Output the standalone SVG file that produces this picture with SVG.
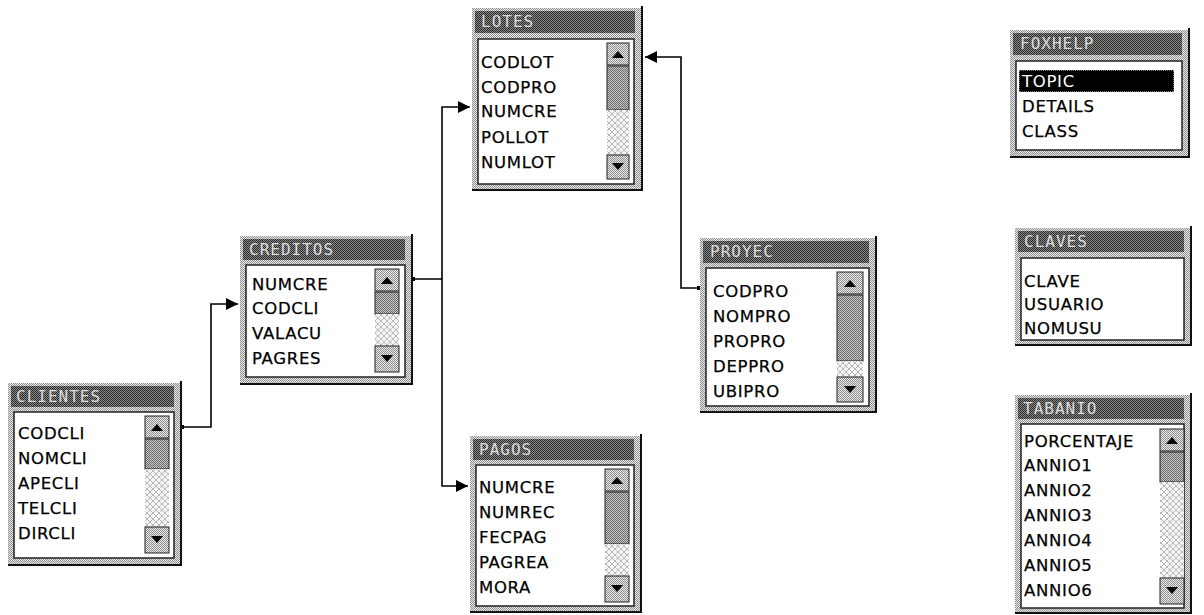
<svg xmlns="http://www.w3.org/2000/svg" width="1204" height="615" viewBox="0 0 1204 615">
<style>
.bg{fill:#fff}
.frame{fill:url(#dith)}
.edge{fill:none;stroke:#111;stroke-width:2}
.title{fill:url(#dark)}
.list{fill:#fff;stroke:#222;stroke-width:1.5}
.tt{font-family:"DejaVu Sans Mono",monospace;font-size:16px;fill:#dcdcdc;letter-spacing:1px}
.row{font-family:"DejaVu Sans",Verdana,sans-serif;font-size:16.5px;fill:#000;stroke:#000;stroke-width:0.25;letter-spacing:0.7px}
.rowi{font-family:"DejaVu Sans",Verdana,sans-serif;font-size:16.5px;fill:#fff;letter-spacing:0.7px}
.btn{fill:url(#dith);stroke:#222;stroke-width:1}
.thumb{fill:url(#mid);stroke:#222;stroke-width:1}
.track{fill:url(#hatch)}
.tri{fill:#000}
.conn{fill:none;stroke:#000;stroke-width:1.6}
.dot{fill:#000}
</style>
<defs>
<pattern id="dith" width="2" height="2" patternUnits="userSpaceOnUse"><rect width="2" height="2" fill="#ececec"/><rect width="1" height="1" fill="#8c8c8c"/><rect x="1" y="1" width="1" height="1" fill="#8c8c8c"/></pattern>
<pattern id="dark" width="2" height="2" patternUnits="userSpaceOnUse"><rect width="2" height="2" fill="#8a8a8a"/><rect width="1" height="1" fill="#2a2a2a"/><rect x="1" y="1" width="1" height="1" fill="#2a2a2a"/></pattern>
<pattern id="mid" width="2" height="2" patternUnits="userSpaceOnUse"><rect width="2" height="2" fill="#c8c8c8"/><rect width="1" height="1" fill="#6a6a6a"/><rect x="1" y="1" width="1" height="1" fill="#6a6a6a"/></pattern>
<pattern id="hatch" width="6" height="6" patternUnits="userSpaceOnUse"><rect width="6" height="6" fill="#f4f4f4"/><path d="M0,0 L6,6 M6,0 L0,6" stroke="#a8a8a8" stroke-width="0.8"/></pattern>
<marker id="arr" viewBox="0 0 10 10" refX="10" refY="5" markerWidth="12" markerHeight="12" markerUnits="userSpaceOnUse" orient="auto"><path d="M0,0 L10,5 L0,10 Z" fill="#000"/></marker>
</defs>
<rect class="bg" x="0" y="0" width="1204" height="615"/>

<g id="connectors">
<path class="conn" d="M183,427 H211 V304 H238" marker-end="url(#arr)"/>
<rect class="dot" x="180" y="425" width="4" height="4"/>
<path class="conn" d="M414,279 H442 V107 H470" marker-end="url(#arr)"/>
<rect class="dot" x="411" y="277" width="4" height="4"/>
<path class="conn" d="M442,279 V486 H468" marker-end="url(#arr)"/>
<path class="conn" d="M700,288 H681 V57 H645" marker-end="url(#arr)"/>
<rect class="dot" x="697" y="286" width="4" height="4"/>
</g>

<g id="lotes">
<rect class="frame" x="472" y="8" width="171" height="182"/>
<path class="edge" d="M642,6 V190 H472"/>
<rect class="title" x="475" y="11" width="160" height="22"/>
<text class="tt" x="481" y="27">LOTES</text>
<rect class="list" x="478" y="39" width="156" height="145"/>
<text class="row" x="481" y="68">CODLOT</text>
<text class="row" x="481" y="93">CODPRO</text>
<text class="row" x="481" y="117">NUMCRE</text>
<text class="row" x="481" y="143">POLLOT</text>
<text class="row" x="481" y="168">NUMLOT</text>
<rect class="btn" x="607" y="43" width="22" height="22"/><path class="tri" d="M612,58 L618,51 L624,58 Z"/>
<rect class="thumb" x="607" y="66" width="22" height="44"/>
<rect class="track" x="607" y="110" width="22" height="45"/>
<rect class="btn" x="607" y="155" width="22" height="24"/><path class="tri" d="M612,163 L618,170 L624,163 Z"/>
</g>

<g id="creditos">
<rect class="frame" x="240" y="236" width="173" height="148"/>
<path class="edge" d="M412,234 V384 H240"/>
<rect class="title" x="243" y="239" width="162" height="21"/>
<text class="tt" x="249" y="255">CREDITOS</text>
<rect class="list" x="246" y="265" width="159" height="112"/>
<text class="row" x="252" y="290">NUMCRE</text>
<text class="row" x="252" y="314">CODCLI</text>
<text class="row" x="252" y="339">VALACU</text>
<text class="row" x="252" y="364">PAGRES</text>
<rect class="btn" x="375" y="269" width="24" height="22"/><path class="tri" d="M381,284 L387,277 L393,284 Z"/>
<rect class="thumb" x="375" y="292" width="24" height="22"/>
<rect class="track" x="375" y="314" width="24" height="32"/>
<rect class="btn" x="375" y="346" width="24" height="26"/><path class="tri" d="M381,355 L387,362 L393,355 Z"/>
</g>

<g id="clientes">
<rect class="frame" x="8" y="383" width="174" height="182"/>
<path class="edge" d="M181,381 V565 H8"/>
<rect class="title" x="11" y="386" width="163" height="21"/>
<text class="tt" x="16" y="402">CLIENTES</text>
<rect class="list" x="14" y="412" width="160" height="146"/>
<text class="row" x="18" y="439">CODCLI</text>
<text class="row" x="18" y="464">NOMCLI</text>
<text class="row" x="18" y="489">APECLI</text>
<text class="row" x="18" y="514">TELCLI</text>
<text class="row" x="18" y="539">DIRCLI</text>
<rect class="btn" x="145" y="416" width="24" height="22"/><path class="tri" d="M151,431 L157,424 L163,431 Z"/>
<rect class="thumb" x="145" y="439" width="24" height="30"/>
<rect class="track" x="145" y="469" width="24" height="58"/>
<rect class="btn" x="145" y="527" width="24" height="26"/><path class="tri" d="M151,536 L157,543 L163,536 Z"/>
</g>

<g id="pagos">
<rect class="frame" x="470" y="436" width="172" height="176"/>
<path class="edge" d="M641,434 V612 H470"/>
<rect class="title" x="473" y="439" width="161" height="21"/>
<text class="tt" x="479" y="455">PAGOS</text>
<rect class="list" x="476" y="465" width="158" height="141"/>
<text class="row" x="479" y="493">NUMCRE</text>
<text class="row" x="479" y="518">NUMREC</text>
<text class="row" x="479" y="543">FECPAG</text>
<text class="row" x="479" y="568">PAGREA</text>
<text class="row" x="479" y="593">MORA</text>
<rect class="btn" x="605" y="469" width="24" height="22"/><path class="tri" d="M611,484 L617,477 L623,484 Z"/>
<rect class="thumb" x="605" y="492" width="24" height="52"/>
<rect class="track" x="605" y="544" width="24" height="32"/>
<rect class="btn" x="605" y="576" width="24" height="26"/><path class="tri" d="M611,585 L617,592 L623,585 Z"/>
</g>

<g id="proyec">
<rect class="frame" x="700" y="238" width="177" height="174"/>
<path class="edge" d="M876,236 V412 H700"/>
<rect class="title" x="703" y="241" width="166" height="22"/>
<text class="tt" x="710" y="257">PROYEC</text>
<rect class="list" x="706" y="268" width="163" height="138"/>
<text class="row" x="713" y="297">CODPRO</text>
<text class="row" x="713" y="322">NOMPRO</text>
<text class="row" x="713" y="347">PROPRO</text>
<text class="row" x="713" y="372">DEPPRO</text>
<text class="row" x="713" y="397">UBIPRO</text>
<rect class="btn" x="837" y="272" width="26" height="22"/><path class="tri" d="M844,287 L850,280 L856,287 Z"/>
<rect class="thumb" x="837" y="295" width="26" height="66"/>
<rect class="track" x="837" y="361" width="26" height="16"/>
<rect class="btn" x="837" y="377" width="26" height="25"/><path class="tri" d="M844,386 L850,393 L856,386 Z"/>
</g>

<g id="foxhelp">
<rect class="frame" x="1010" y="30" width="180" height="127"/>
<path class="edge" d="M1189,28 V157 H1010"/>
<rect class="title" x="1013" y="33" width="169" height="22"/>
<text class="tt" x="1020" y="49">FOXHELP</text>
<rect class="list" x="1016" y="61" width="166" height="89"/>
<rect x="1019" y="70" width="155" height="22" fill="#000"/>
<rect x="1019" y="70" width="155" height="22" fill="none" stroke="#fff" stroke-width="1" stroke-dasharray="1 1"/>
<text class="rowi" x="1022" y="87">TOPIC</text>
<text class="row" x="1022" y="112">DETAILS</text>
<text class="row" x="1022" y="137">CLASS</text>
</g>

<g id="claves">
<rect class="frame" x="1015" y="228" width="177" height="117"/>
<path class="edge" d="M1191,226 V345 H1015"/>
<rect class="title" x="1018" y="231" width="166" height="21"/>
<text class="tt" x="1024" y="247">CLAVES</text>
<rect class="list" x="1021" y="258" width="163" height="82"/>
<text class="row" x="1024" y="287">CLAVE</text>
<text class="row" x="1024" y="310">USUARIO</text>
<text class="row" x="1024" y="334">NOMUSU</text>
</g>

<g id="tabanio">
<rect class="frame" x="1015" y="395" width="177" height="218"/>
<path class="edge" d="M1191,393 V613 H1015"/>
<rect class="title" x="1018" y="398" width="166" height="21"/>
<text class="tt" x="1023" y="414">TABANIO</text>
<rect class="list" x="1021" y="424" width="163" height="184"/>
<text class="row" x="1024" y="447">PORCENTAJE</text>
<text class="row" x="1024" y="471">ANNIO1</text>
<text class="row" x="1024" y="496">ANNIO2</text>
<text class="row" x="1024" y="521">ANNIO3</text>
<text class="row" x="1024" y="546">ANNIO4</text>
<text class="row" x="1024" y="571">ANNIO5</text>
<text class="row" x="1024" y="596">ANNIO6</text>
<rect class="btn" x="1160" y="429" width="24" height="22"/><path class="tri" d="M1166,444 L1172,437 L1178,444 Z"/>
<rect class="thumb" x="1160" y="452" width="24" height="30"/>
<rect class="track" x="1160" y="482" width="24" height="96"/>
<rect class="btn" x="1160" y="578" width="24" height="26"/><path class="tri" d="M1166,587 L1172,594 L1178,587 Z"/>
</g>
</svg>
